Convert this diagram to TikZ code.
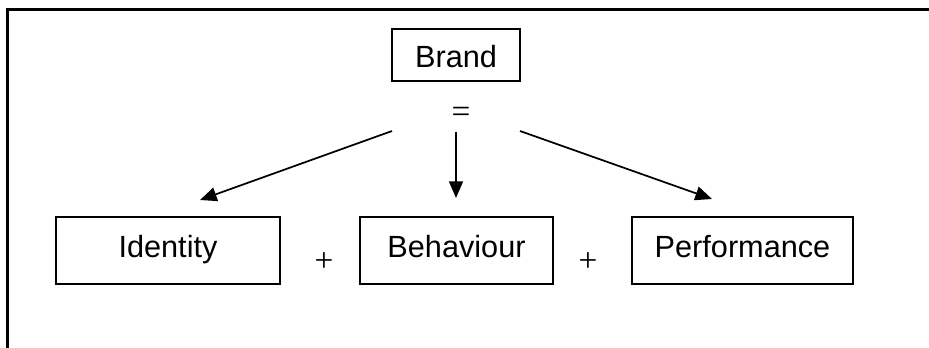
\documentclass[tikz,border=0pt]{standalone}
\usepackage{fontspec}
\setmainfont{Liberation Sans}
\newfontfamily\opfont{Liberation Serif}
\usetikzlibrary{arrows.meta}
\begin{document}
\begin{tikzpicture}[x=0.75pt,y=-0.75pt,
  box/.style={draw,line width=1.3pt,inner sep=0pt,
    font=\fontsize{23}{28}\selectfont,text height=17pt,text depth=6.5pt,
    minimum height=50.25pt},
  topbox/.style={box,minimum height=39pt,text height=19.5pt,text depth=0pt},
  op/.style={inner sep=0pt,font=\opfont\fontsize{25}{30}\selectfont},
  link/.style={line width=1.3pt,-{Triangle[length=12.5pt,width=10.5pt]}},
  frame/.style={line width=2.2pt}]
  \useasboundingbox (0,0) rectangle (929,348);

  % open frame: top and left edges only
  \draw[frame] (929,9.3) -- (7.7,9.3) -- (7.7,348);

  % brand and its three components
  \node[topbox,minimum width=96pt] (brand) at (456,55) {Brand};
  \node[op] (eq) at (461,115) {=};
  \node[box,minimum width=168pt] (identity) at (168,250.5) {Identity};
  \node[box,minimum width=144.75pt] (behaviour) at (456.5,250.5) {Behaviour};
  \node[box,minimum width=165.75pt] (performance) at (742.5,250.5) {Performance};
  \node[op] (plusA) at (324,262.5) {+};
  \node[op] (plusB) at (588,262.5) {+};

  % arrow end points
  \coordinate (sL) at (392,131);
  \coordinate (sM) at (456,132);
  \coordinate (sR) at (520,131);
  \coordinate (tL) at (200,200);
  \coordinate (tM) at (456,198);
  \coordinate (tR) at (712,199);

  \draw[link] (sL) -- (tL);
  \draw[link] (sM) -- (tM);
  \draw[link] (sR) -- (tR);
\end{tikzpicture}
\end{document}
